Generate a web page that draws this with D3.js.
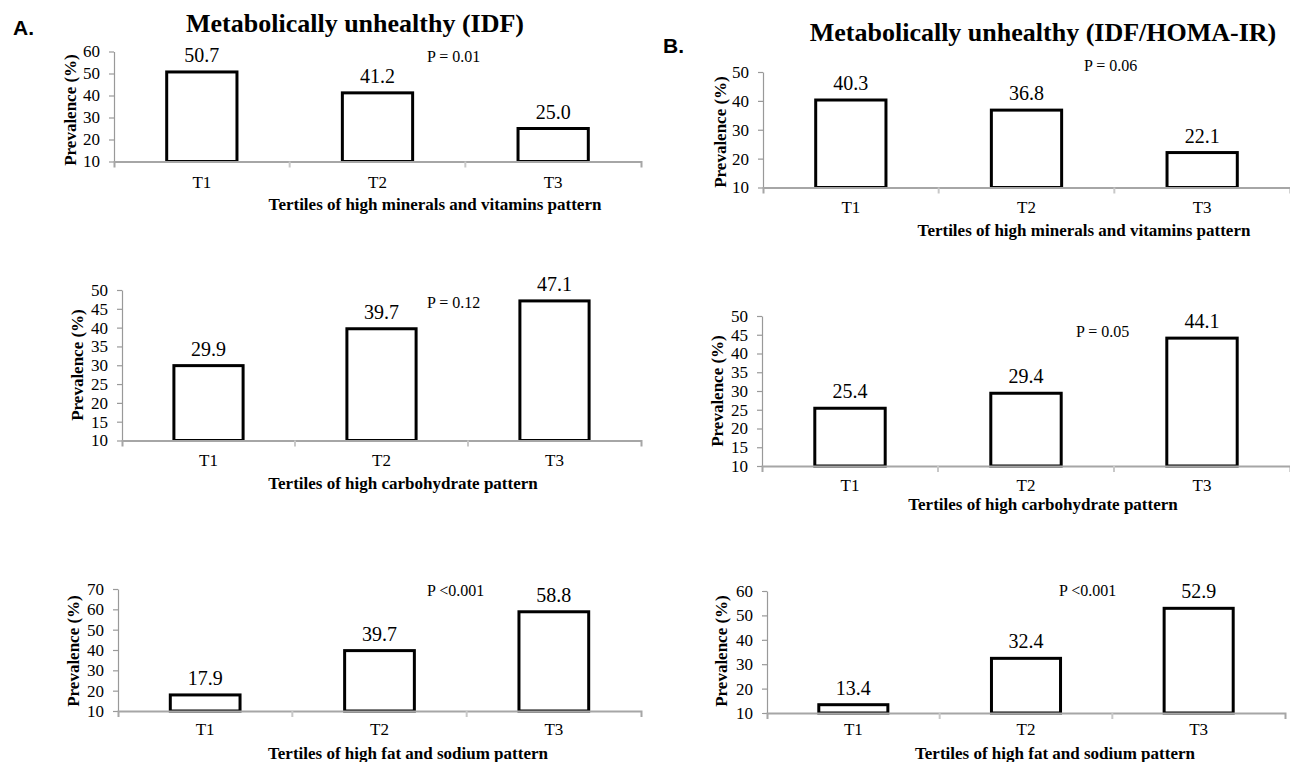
<!DOCTYPE html>
<html>
<head>
<meta charset="utf-8">
<script src="https://cdn.jsdelivr.net/npm/d3@7"></script>
<style>
  html, body { margin: 0; padding: 0; background: #fff; }
  svg { display: block; }
  text { font-family: "Liberation Serif", "Times New Roman", serif; fill: #000; }
</style>
</head>
<body>
<svg id="chart" width="1290" height="762"></svg>
<script>
// ---------------- data ----------------
const categories = ["T1", "T2", "T3"];

const idfMineralsVitamins = [50.7, 41.2, 25.0];
const idfCarbohydrate     = [29.9, 39.7, 47.1];
const idfFatSodium        = [17.9, 39.7, 58.8];

const homaMineralsVitamins = [40.3, 36.8, 22.1];
const homaCarbohydrate     = [25.4, 29.4, 44.1];
const homaFatSodium        = [13.4, 32.4, 52.9];

const ticksA1 = [10, 20, 30, 40, 50, 60];
const ticksA2 = [10, 15, 20, 25, 30, 35, 40, 45, 50];
const ticksA3 = [10, 20, 30, 40, 50, 60, 70];
const ticksB1 = [10, 20, 30, 40, 50];
const ticksB2 = [10, 15, 20, 25, 30, 35, 40, 45, 50];
const ticksB3 = [10, 20, 30, 40, 50, 60];

const pLabels = ["P = 0.01", "P = 0.12", "P <0.001", "P = 0.06", "P = 0.05", "P <0.001"];
const xTitles = [
  "Tertiles of high minerals and vitamins pattern",
  "Tertiles of high carbohydrate pattern",
  "Tertiles of high fat and sodium pattern"
];
const yTitle = "Prevalence (%)";
const panelTitles = ["Metabolically unhealthy (IDF)", "Metabolically unhealthy (IDF/HOMA-IR)"];
const panelLetters = ["A.", "B."];

// ---------------- layout ----------------
const panels = [
  { values: idfMineralsVitamins, ticks: ticksA1, p: pLabels[0], xt: xTitles[0],
    x0: 114, x1: 641, yB: 161.5, yT: 51.5, px: 427, py: 62, tY: 188, xtX: 435, xtY: 210, ytX: 76, ytY: 110 },
  { values: idfCarbohydrate, ticks: ticksA2, p: pLabels[1], xt: xTitles[1],
    x0: 122, x1: 641, yB: 440.5, yT: 290, px: 427, py: 308, tY: 466, xtX: 403, xtY: 489, ytX: 83, ytY: 365 },
  { values: idfFatSodium, ticks: ticksA3, p: pLabels[2], xt: xTitles[2],
    x0: 118, x1: 641, yB: 711, yT: 589, px: 427, py: 596, tY: 735, xtX: 408, xtY: 759, ytX: 79, ytY: 651 },
  { values: homaMineralsVitamins, ticks: ticksB1, p: pLabels[3], xt: xTitles[0],
    x0: 763, x1: 1290, yB: 187.5, yT: 72, px: 1084, py: 71, tY: 213, xtX: 1084, xtY: 236, ytX: 726, ytY: 132 },
  { values: homaCarbohydrate, ticks: ticksB2, p: pLabels[4], xt: xTitles[1],
    x0: 762, x1: 1290, yB: 466, yT: 316, px: 1076, py: 337, tY: 491, xtX: 1043, xtY: 510, ytX: 723, ytY: 391 },
  { values: homaFatSodium, ticks: ticksB3, p: pLabels[5], xt: xTitles[2],
    x0: 767, x1: 1285, yB: 713, yT: 591, px: 1059, py: 596, tY: 735, xtX: 1055, xtY: 759, ytX: 727, ytY: 651 }
];

const svg = d3.select("#chart");

// panel letters & titles
svg.append("text").attr("x", 13).attr("y", 35).text(panelLetters[0])
  .style("font-family", "'Liberation Sans', Arial, sans-serif").style("font-weight", "bold").style("font-size", "21px");
svg.append("text").attr("x", 663).attr("y", 53).text(panelLetters[1])
  .style("font-family", "'Liberation Sans', Arial, sans-serif").style("font-weight", "bold").style("font-size", "21px");
svg.append("text").attr("x", 355).attr("y", 32).attr("text-anchor", "middle").text(panelTitles[0])
  .style("font-weight", "bold").style("font-size", "26px");
svg.append("text").attr("x", 1043).attr("y", 41).attr("text-anchor", "middle").text(panelTitles[1])
  .style("font-weight", "bold").style("font-size", "26px");

const axisGray = "#a6a6a6";

panels.forEach(pn => {
  const g = svg.append("g");
  const lo = d3.min(pn.ticks), hi = d3.max(pn.ticks);
  const y = d3.scaleLinear().domain([lo, hi]).range([pn.yB, pn.yT]);
  const x = d3.scaleBand().domain(categories).range([pn.x0, pn.x1])
    .paddingInner(0.6).paddingOuter(0.3);
  const step = x.step();

  // bars
  g.selectAll("rect.bar").data(pn.values).join("rect")
    .attr("class", "bar")
    .attr("x", (d, i) => x(categories[i]))
    .attr("width", x.bandwidth())
    .attr("y", d => y(d))
    .attr("height", d => y(lo) - y(d))
    .attr("fill", "#fff").attr("stroke", "#000").attr("stroke-width", 3);

  // value labels
  g.selectAll("text.val").data(pn.values).join("text")
    .attr("class", "val")
    .attr("x", (d, i) => x(categories[i]) + x.bandwidth() / 2)
    .attr("y", d => y(d) - 10)
    .attr("text-anchor", "middle")
    .style("font-size", "20px")
    .text(d => d.toFixed(1));

  // y axis
  const ya = g.append("g").attr("transform", `translate(${pn.x0},0)`)
    .call(d3.axisLeft(y).tickValues(pn.ticks).tickSize(5).tickSizeOuter(0).tickPadding(9).tickFormat(d3.format("d")));
  ya.select(".domain").attr("stroke", "#999").attr("stroke-width", 1.2);
  ya.selectAll(".tick line").attr("stroke", "#999").attr("stroke-width", 1.2);
  ya.selectAll(".tick text").style("font-size", "17px").style("font-family", "'Liberation Serif', serif").attr("fill", "#000");

  // x axis
  const xa = g.append("g").attr("transform", `translate(0,${y(lo)})`)
    .call(d3.axisBottom(x).tickSize(0).tickSizeOuter(6).tickPadding(0));
  xa.select(".domain").attr("stroke", axisGray).attr("stroke-width", 2);
  xa.selectAll(".tick text").remove();
  // category boundary ticks
  g.selectAll("line.sep").data(d3.range(1, categories.length)).join("line")
    .attr("class", "sep")
    .attr("x1", k => pn.x0 + k * step).attr("x2", k => pn.x0 + k * step)
    .attr("y1", y(lo)).attr("y2", y(lo) + 6)
    .attr("stroke", "#c8c8c8").attr("stroke-width", 2);

  // category labels
  g.selectAll("text.cat").data(categories).join("text")
    .attr("class", "cat")
    .attr("x", d => x(d) + x.bandwidth() / 2)
    .attr("y", pn.tY)
    .attr("text-anchor", "middle")
    .style("font-size", "17px")
    .text(d => d);

  // x title
  g.append("text").attr("x", pn.xtX).attr("y", pn.xtY).attr("text-anchor", "middle")
    .style("font-weight", "bold").style("font-size", "17px").text(pn.xt);

  // y title
  g.append("text").attr("transform", `translate(${pn.ytX},${pn.ytY}) rotate(-90)`)
    .attr("text-anchor", "middle")
    .style("font-weight", "bold").style("font-size", "17px").text(yTitle);

  // P value
  g.append("text").attr("x", pn.px).attr("y", pn.py)
    .style("font-size", "16px").text(pn.p);
});
</script>
</body>
</html>
